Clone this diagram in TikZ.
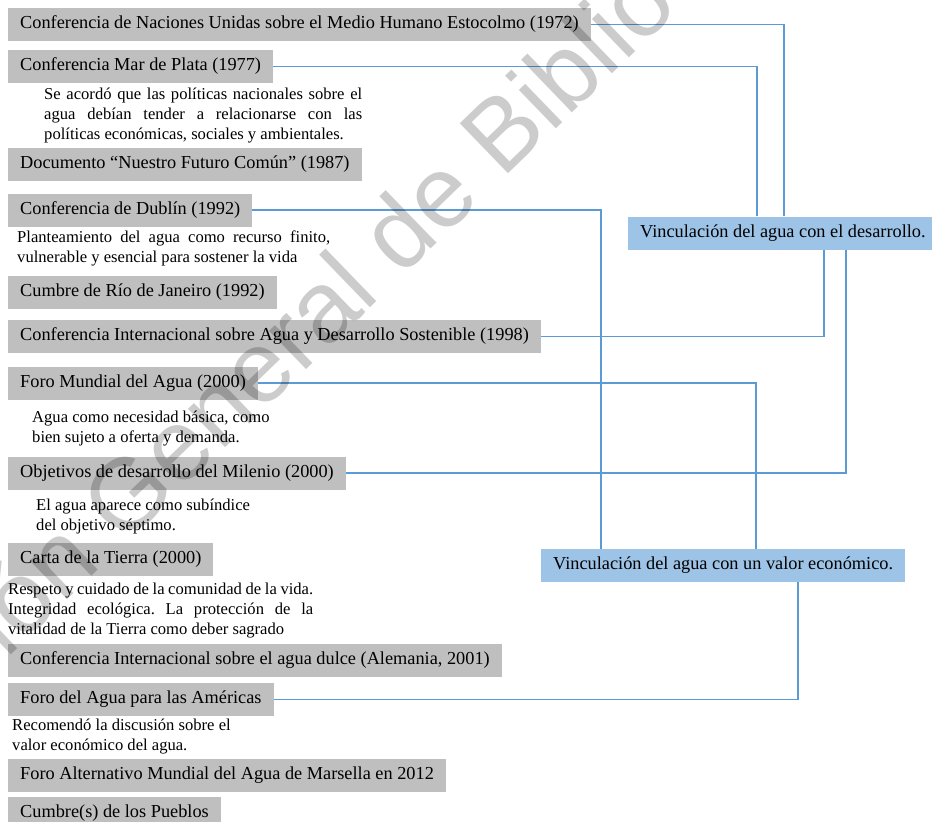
\documentclass[tikz,border=0pt]{standalone}
\usepackage{fontspec}
\setmainfont{Liberation Serif}
\newfontfamily\marcafont{Liberation Sans}
\frenchspacing

\definecolor{grisCaja}{RGB}{191,191,191}
\definecolor{azulCaja}{RGB}{157,195,230}
\definecolor{azulLinea}{RGB}{91,155,213}

\tikzset{
  evento/.style={fill=grisCaja, anchor=west, inner xsep=12pt, inner ysep=0pt,
    minimum height=33pt, font=\fontsize{18.3}{20}\selectfont},
  vinculo/.style={evento, fill=azulCaja},
  nota/.style={anchor=north west, inner sep=0pt, align=left,
    font=\fontsize{16.6}{20}\selectfont},
  notaj/.style={nota, align=justify, text width=#1},
  enlace/.style={draw=azulLinea, line width=1.1pt},
}

\begin{document}
\begin{tikzpicture}[x=1pt,y=-1pt]
\useasboundingbox (0,0) rectangle (932,822);

% eventos
\node[evento] (estocolmo) at (8,24.5) {Conferencia de Naciones Unidas sobre el Medio Humano Estocolmo (1972)\hspace{3pt}};
\node[evento] (marplata) at (8,66.5) {Conferencia Mar de Plata (1977)};
\node[notaj=318pt] (nmarplata) at (44,88) {Se acordó que las políticas nacionales sobre el\linebreak agua debían tender a relacionarse con las\linebreak políticas económicas, sociales y ambientales.};
\node[evento] (futuro) at (8,164.5) {Documento “Nuestro Futuro Común” (1987)};
\node[evento] (dublin) at (8,210) {Conferencia de Dublín (1992)};
\node[notaj=313pt] (ndublin) at (17,231) {Planteamiento del agua como recurso finito,\linebreak vulnerable y esencial para sostener la vida};
\node[evento] (rio) at (8,292.5) {Cumbre de Río de Janeiro (1992)};
\node[evento] (sostenible) at (8,336.5) {Conferencia Internacional sobre Agua y Desarrollo Sostenible (1998)};
\node[evento] (foromundial) at (8,383) {Foro Mundial del Agua (2000)};
\node[nota] (nforomundial) at (32,411) {Agua como necesidad básica, como\\bien sujeto a oferta y demanda.};
\node[evento] (milenio) at (8,473) {Objetivos de desarrollo del Milenio (2000)};
\node[nota] (nmilenio) at (36,499) {El agua aparece como subíndice\\del objetivo séptimo.};
\node[evento] (tierra) at (8,559.5) {Carta de la Tierra (2000)};
\node[notaj=305pt] (ntierra) at (8,583) {Respeto y cuidado de la comunidad de la vida.\linebreak Integridad ecológica. La protección de la\linebreak vitalidad de la Tierra como deber sagrado};
\node[evento] (alemania) at (8,660.5) {Conferencia Internacional sobre el agua dulce (Alemania, 2001)};
\node[evento] (americas) at (8,699.5) {Foro del Agua para las Américas};
\node[nota] (namericas) at (12,719) {Recomendó la discusión sobre el\\valor económico del agua.};
\node[evento] (marsella) at (8,775.5) {Foro Alternativo Mundial del Agua de Marsella en 2012};
\node[evento] (pueblos) at (8,813.5) {Cumbre(s) de los Pueblos};

% vinculaciones
\node[vinculo] (desarrollo) at (628,233) {Vinculación del agua con el desarrollo.};
\node[vinculo] (economico) at (541,565.5) {Vinculación del agua con un valor económico.};

% enlaces
\draw[enlace] (estocolmo.east) -| ([xshift=156pt]desarrollo.north west);
\draw[enlace] (marplata.east) -| ([xshift=129pt]desarrollo.north west);
\draw[enlace] ([xshift=196pt]desarrollo.south west) |- (sostenible.east);
\draw[enlace] ([xshift=218pt]desarrollo.south west) |- (milenio.east);
\draw[enlace] (dublin.east) -| ([xshift=60pt]economico.north west);
\draw[enlace] (foromundial.east) -| ([xshift=215pt]economico.north west);
\draw[enlace] ([xshift=257pt]economico.south west) |- (americas.east);

% marca de agua
\node[rotate=44, text=black, text opacity=0.2, font=\marcafont\fontsize{101}{101}\selectfont] (marca) at (302,323) {Dirección General de Bibliotecas};
\end{tikzpicture}
\end{document}
